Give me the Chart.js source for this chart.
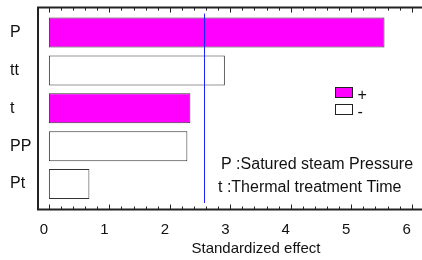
<!DOCTYPE html>
<html>
<head>
<meta charset="utf-8">
<script src="https://cdn.jsdelivr.net/npm/chart.js@4/dist/chart.umd.min.js"></script>
<style>
  html, body { margin: 0; padding: 0; background: #fff; overflow: hidden; }
  #wrap { width: 422px; height: 260px; }
</style>
</head>
<body>
<div id="wrap"><canvas id="paretoChart" width="422" height="260"></canvas></div>
<script>
const factors = ["P", "tt", "t", "PP", "Pt"];
const effects = [5.55, 2.91, 2.34, 2.29, 0.67];
const signs = ["+", "-", "+", "-", "-"];
const criticalValue = 2.57;
const xTickValues = [0, 1, 2, 3, 4, 5, 6];
const legendSigns = ["+", "-"];
const notes = ["P :Satured steam Pressure", "t :Thermal treatment Time"];
const xTitle = "Standardized effect";

const FONT = "Arial, 'Liberation Sans', sans-serif";
const PINK = "#ff00ff";
const INK = "#111";

function colorFor(sign) {
  return sign === "+" ? PINK : "#ffffff";
}

// frame, inward ticks, reference line, legend and notes
const decorations = {
  id: "decorations",
  afterDatasetsDraw(chart) {
    const ctx = chart.ctx;
    const area = chart.chartArea;
    const x = chart.scales.x;
    const top = area.top - 6;
    const bottom = area.bottom + 6.5;

    ctx.save();

    // reference line
    const cx = Math.round(x.getPixelForValue(criticalValue)) + 0.5;
    ctx.strokeStyle = "#2020ff";
    ctx.lineWidth = 1;
    ctx.beginPath();
    ctx.moveTo(cx, area.top);
    ctx.lineTo(cx, area.bottom);
    ctx.stroke();

    // frame
    ctx.strokeStyle = "#222";
    ctx.lineWidth = 2;
    ctx.beginPath();
    ctx.moveTo(chart.width, top);
    ctx.lineTo(area.left, top);
    ctx.lineTo(area.left, bottom);
    ctx.lineTo(chart.width, bottom);
    ctx.stroke();

    // inward ticks every 0.2
    ctx.lineWidth = 1;
    for (let i = 0; i <= 31; i++) {
      const v = i * 0.2;
      if (v > x.max) break;
      const px = Math.round(x.getPixelForValue(v)) + 0.5;
      const len = i % 5 === 0 ? 5 : 3;
      ctx.beginPath();
      ctx.moveTo(px, bottom);
      ctx.lineTo(px, bottom - len);
      ctx.moveTo(px, top);
      ctx.lineTo(px, top + len);
      ctx.stroke();
    }

    // legend
    ctx.font = "16px " + FONT;
    ctx.textBaseline = "middle";
    ctx.textAlign = "left";
    legendSigns.forEach((s, i) => {
      const bx = 335.5;
      const by = 87.5 + i * 17;
      ctx.fillStyle = colorFor(s);
      ctx.fillRect(bx, by, 17, 10);
      ctx.strokeStyle = "#222";
      ctx.strokeRect(bx, by, 17, 10);
      ctx.fillStyle = INK;
      ctx.fillText(s, bx + 22, by + 8);
    });

    // notes
    ctx.textBaseline = "alphabetic";
    ctx.font = "16px " + FONT;
    ctx.fillText(notes[0], 221, 169);
    ctx.fillText(notes[1], 218, 192);

    // axis title
    ctx.font = "15px " + FONT;
    ctx.textAlign = "center";
    ctx.fillText(xTitle, 256, 253);

    ctx.restore();
  }
};

new Chart(document.getElementById("paretoChart"), {
  type: "bar",
  data: {
    labels: factors,
    datasets: [{
      data: effects,
      backgroundColor: signs.map(colorFor),
      borderColor: "#333",
      borderWidth: 1,
      borderSkipped: false,
      categoryPercentage: 1,
      barPercentage: 0.79
    }]
  },
  options: {
    indexAxis: "y",
    responsive: false,
    animation: false,
    devicePixelRatio: 1,
    layout: { padding: { left: 10, top: 13, right: 0, bottom: 0 } },
    plugins: {
      legend: { display: false },
      tooltip: { enabled: false }
    },
    scales: {
      x: {
        type: "linear",
        min: -0.18,
        max: 6.17,
        grid: { display: false },
        border: { display: false },
        afterBuildTicks: (scale) => {
          scale.ticks = xTickValues.map(v => ({ value: v }));
        },
        ticks: {
          autoSkip: false,
          maxRotation: 0,
          color: INK,
          font: { size: 15, family: FONT },
          padding: 10,
          labelOffset: -5,
          callback: (v) => String(v)
        },
        afterFit: (scale) => {
          scale.height = 57;
          scale.paddingLeft = 0;
          scale.paddingRight = 0;
        }
      },
      y: {
        grid: { display: false },
        border: { display: false },
        ticks: {
          color: INK,
          crossAlign: "far",
          font: { size: 16, family: FONT },
          padding: 4
        },
        afterFit: (scale) => { scale.width = 28; }
      }
    }
  },
  plugins: [decorations]
});
</script>
</body>
</html>
